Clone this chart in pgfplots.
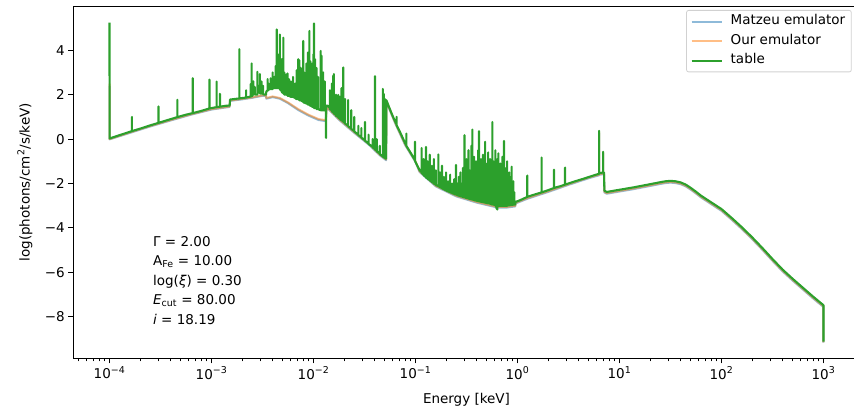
\documentclass[border=0pt]{standalone}
\usepackage{fontspec}
\setmainfont{DejaVu Sans}
\usepackage{pgfplots}
\usepackage{pgfplotstable}
\pgfplotsset{compat=1.18}
\definecolor{tabblue}{RGB}{31,119,180}
\definecolor{taborange}{RGB}{255,127,14}
\definecolor{tabgreen}{RGB}{44,160,44}

% log10(E [keV])  log10(flux)
\pgfplotstableread{
lx y
-4.000 5.25
-3.999 0.03
-3.900 0.18
-3.780 0.36
-3.780 1.00
-3.780 0.36
-3.700 0.47
-3.600 0.62
-3.520 0.73
-3.520 1.47
-3.520 0.73
-3.450 0.83
-3.335 0.99
-3.335 1.77
-3.335 0.99
-3.250 1.10
-3.184 1.17
-3.184 2.74
-3.184 1.17
-3.100 1.27
-3.020 1.38
-3.020 2.68
-3.020 1.38
-2.950 1.44
-2.950 2.59
-2.950 1.44
-2.917 1.46
-2.917 2.04
-2.917 1.46
-2.860 1.50
-2.822 1.51
-2.818 1.78
-2.750 1.82
-2.727 1.83
-2.727 4.05
-2.727 1.83
-2.680 1.86
-2.660 1.87
-2.660 2.20
-2.660 1.87
-2.630 1.90
-2.615 1.92
-2.615 2.48
-2.615 1.92
-2.606 1.93
-2.606 3.41
-2.606 1.93
-2.598 1.95
-2.598 2.50
-2.598 2.00
-2.590 2.00
-2.590 2.60
-2.590 2.05
-2.575 2.05
-2.575 2.35
-2.575 2.00
-2.550 2.00
-2.550 3.03
-2.550 2.10
-2.540 2.10
-2.540 2.40
-2.540 2.10
-2.525 2.10
-2.525 2.93
-2.525 2.05
-2.510 2.05
-2.510 2.60
-2.510 2.05
-2.495 2.05
-2.495 2.40
-2.495 2.02
-2.475 2.00
-2.466 2.00
-2.462 2.15
-2.450 2.20
-2.450 2.70
-2.450 2.20
-2.440 2.20
-2.440 2.50
-2.440 2.25
-2.420 2.25
-2.420 2.74
-2.420 2.25
-2.400 2.25
-2.400 3.00
-2.400 2.30
-2.385 2.30
-2.385 2.80
-2.385 2.30
-2.370 2.30
-2.370 3.30
-2.370 2.30
-2.360 2.30
-2.360 4.94
-2.360 2.30
-2.355 2.30
-2.355 3.50
-2.355 2.30
-2.345 2.30
-2.345 3.80
-2.345 2.30
-2.330 2.30
-2.330 4.71
-2.330 2.25
-2.320 2.20
-2.320 3.20
-2.320 2.20
-2.310 2.15
-2.310 3.60
-2.310 2.10
-2.296 2.10
-2.296 4.57
-2.296 2.05
-2.285 2.05
-2.285 3.00
-2.285 2.00
-2.270 2.00
-2.270 2.90
-2.270 2.00
-2.255 2.00
-2.255 2.96
-2.255 1.95
-2.240 1.95
-2.240 2.70
-2.240 1.95
-2.220 1.90
-2.220 2.60
-2.220 1.90
-2.200 1.90
-2.200 2.80
-2.200 1.90
-2.180 1.85
-2.180 2.50
-2.180 1.85
-2.165 1.80
-2.165 3.10
-2.165 1.80
-2.149 1.80
-2.149 3.60
-2.149 1.80
-2.140 1.80
-2.140 3.55
-2.140 1.75
-2.125 1.75
-2.125 3.20
-2.125 1.75
-2.110 1.70
-2.110 2.90
-2.110 1.70
-2.100 1.70
-2.100 4.42
-2.100 1.65
-2.090 1.65
-2.090 3.00
-2.090 1.65
-2.070 1.60
-2.070 3.40
-2.070 1.60
-2.055 1.60
-2.055 3.90
-2.055 1.55
-2.040 1.55
-2.040 4.87
-2.040 1.55
-2.030 1.50
-2.030 3.50
-2.030 1.50
-2.015 1.50
-2.015 3.40
-2.015 1.45
-2.000 1.45
-2.000 3.82
-2.000 1.45
-1.995 1.45
-1.995 5.21
-1.995 1.40
-1.985 1.40
-1.985 3.60
-1.985 1.40
-1.970 1.40
-1.970 3.20
-1.970 1.35
-1.955 1.35
-1.955 2.80
-1.955 1.35
-1.930 1.30
-1.930 3.97
-1.930 1.30
-1.920 1.30
-1.920 3.75
-1.920 1.30
-1.905 1.30
-1.905 3.00
-1.905 1.30
-1.890 1.30
-1.890 2.60
-1.890 1.30
-1.877 1.30
-1.877 0.05
-1.877 1.50
-1.860 1.50
-1.840 1.40
-1.840 2.20
-1.840 1.35
-1.820 1.30
-1.820 2.50
-1.820 1.25
-1.806 1.20
-1.806 2.86
-1.806 1.20
-1.800 1.20
-1.800 2.93
-1.800 1.15
-1.780 1.10
-1.780 2.00
-1.780 1.05
-1.757 1.00
-1.757 1.99
-1.757 0.97
-1.740 0.92
-1.740 1.90
-1.740 0.90
-1.725 0.85
-1.725 2.30
-1.725 0.85
-1.708 0.80
-1.708 3.23
-1.708 0.78
-1.690 0.72
-1.690 1.80
-1.690 0.70
-1.660 0.60
-1.660 1.76
-1.660 0.58
-1.630 0.48
-1.630 1.30
-1.630 0.46
-1.600 0.36
-1.600 1.00
-1.600 0.34
-1.560 0.20
-1.560 0.60
-1.560 0.18
-1.530 0.08
-1.530 0.50
-1.530 0.06
-1.495 -0.05
-1.495 0.77
-1.495 -0.07
-1.460 -0.20
-1.460 0.20
-1.460 -0.22
-1.420 -0.35
-1.420 0.00
-1.420 -0.37
-1.397 -0.45
-1.397 2.83
-1.397 -0.47
-1.380 -0.52
-1.380 0.00
-1.380 -0.55
-1.350 -0.65
-1.350 -0.30
-1.350 -0.68
-1.320 -0.78
-1.320 2.26
-1.320 -0.80
-1.310 -0.80
-1.310 2.03
-1.310 -0.82
-1.295 -0.86
-1.295 1.79
-1.295 -0.88
-1.288 -0.88
-1.285 1.75
-1.260 1.45
-1.220 1.00
-1.185 0.65
-1.185 1.00
-1.185 0.62
-1.150 0.30
-1.100 -0.20
-1.090 -0.28
-1.090 0.25
-1.090 -0.30
-1.050 -0.60
-1.005 -0.95
-1.005 -0.12
-1.005 -0.98
-0.960 -1.40
-0.940 -1.50
-0.940 -0.40
-0.940 -1.52
-0.920 -1.60
-0.920 -0.90
-0.920 -1.62
-0.897 -1.71
-0.897 -0.35
-0.897 -1.73
-0.880 -1.77
-0.880 -1.00
-0.880 -1.79
-0.860 -1.84
-0.860 -0.70
-0.860 -1.86
-0.840 -1.91
-0.840 -1.20
-0.840 -1.93
-0.820 -1.98
-0.820 -0.90
-0.820 -2.00
-0.800 -2.05
-0.800 -1.40
-0.800 -2.07
-0.776 -2.11
-0.776 -0.69
-0.776 -2.12
-0.760 -2.15
-0.760 -1.50
-0.760 -2.17
-0.740 -2.20
-0.740 -1.20
-0.740 -2.22
-0.720 -2.25
-0.720 -1.70
-0.720 -2.27
-0.700 -2.30
-0.700 -1.50
-0.700 -2.32
-0.680 -2.34
-0.680 -1.90
-0.680 -2.36
-0.660 -2.38
-0.660 -1.60
-0.660 -2.40
-0.640 -2.42
-0.640 -2.00
-0.640 -2.44
-0.620 -2.46
-0.620 -1.80
-0.620 -2.48
-0.603 -2.49
-0.603 -1.16
-0.603 -2.50
-0.590 -2.51
-0.590 -2.00
-0.590 -2.53
-0.575 -2.54
-0.575 -1.70
-0.575 -2.55
-0.560 -2.56
-0.560 -1.50
-0.560 -2.57
-0.545 -2.58
-0.545 -2.00
-0.545 -2.59
-0.535 -2.60
-0.535 -1.30
-0.535 -2.61
-0.520 -2.62
-0.520 0.18
-0.520 -2.62
-0.510 -2.63
-0.510 -1.60
-0.510 -2.64
-0.500 -2.65
-0.500 -0.90
-0.500 -2.65
-0.490 -2.66
-0.490 -1.80
-0.490 -2.67
-0.480 -2.67
-0.480 -0.50
-0.480 -2.68
-0.470 -2.69
-0.470 -1.40
-0.470 -2.69
-0.460 -2.70
-0.460 -2.00
-0.460 -2.70
-0.452 -2.71
-0.452 -0.30
-0.452 -2.71
-0.443 -2.72
-0.443 0.43
-0.443 -2.72
-0.435 -2.73
-0.435 -1.20
-0.435 -2.73
-0.425 -2.74
-0.425 -0.80
-0.425 -2.75
-0.415 -2.76
-0.415 -1.90
-0.415 -2.76
-0.405 -2.77
-0.405 -1.00
-0.405 -2.77
-0.395 -2.78
-0.395 -1.50
-0.395 -2.78
-0.386 -2.79
-0.386 -0.50
-0.386 -2.79
-0.377 -2.80
-0.377 0.36
-0.377 -2.80
-0.368 -2.81
-0.368 -1.30
-0.368 -2.81
-0.358 -2.82
-0.358 -0.90
-0.358 -2.82
-0.348 -2.83
-0.348 -1.70
-0.348 -2.83
-0.338 -2.84
-0.338 -0.70
-0.338 -2.84
-0.328 -2.85
-0.328 -1.40
-0.328 -2.85
-0.318 -2.86
-0.318 -0.12
-0.318 -2.86
-0.308 -2.87
-0.308 -1.10
-0.308 -2.87
-0.298 -2.88
-0.298 -1.80
-0.298 -2.88
-0.288 -2.89
-0.288 -0.60
-0.288 -2.89
-0.278 -2.90
-0.278 -1.30
-0.278 -2.90
-0.268 -2.91
-0.268 -0.90
-0.268 -2.91
-0.258 -2.92
-0.258 -1.60
-0.258 -2.93
-0.247 -2.94
-0.247 0.77
-0.247 -2.94
-0.237 -2.95
-0.237 -1.00
-0.237 -2.95
-0.227 -2.96
-0.227 -1.90
-0.227 -2.96
-0.217 -2.97
-0.217 -0.50
-0.217 -2.98
-0.207 -3.05
-0.207 -1.50
-0.207 -3.10
-0.197 -3.17
-0.197 -0.90
-0.197 -3.05
-0.188 -3.00
-0.188 -0.64
-0.188 -3.00
-0.178 -3.00
-0.178 -1.70
-0.178 -3.00
-0.168 -3.00
-0.168 -1.10
-0.168 -3.00
-0.158 -3.00
-0.158 -2.00
-0.158 -3.00
-0.148 -3.00
-0.148 -0.80
-0.148 -3.00
-0.140 -3.00
-0.140 -1.50
-0.140 -3.00
-0.132 -3.00
-0.132 -0.08
-0.132 -3.00
-0.122 -3.00
-0.122 -1.30
-0.122 -3.00
-0.112 -3.00
-0.112 -2.10
-0.112 -3.00
-0.102 -3.00
-0.102 -1.00
-0.102 -3.00
-0.092 -2.99
-0.092 -1.80
-0.092 -2.99
-0.082 -2.98
-0.082 -1.50
-0.082 -2.98
-0.072 -2.97
-0.072 -2.20
-0.072 -2.97
-0.065 -2.97
-0.065 -1.70
-0.065 -2.97
-0.057 -2.96
-0.057 -1.24
-0.057 -2.96
-0.048 -2.96
-0.048 -2.30
-0.048 -2.96
-0.040 -2.95
-0.040 -1.90
-0.040 -2.95
-0.030 -2.95
-0.030 -2.40
-0.030 -2.95
-0.022 -2.95
-0.020 -2.82
0.000 -2.80
0.050 -2.70
0.096 -2.60
0.096 -1.64
0.096 -2.60
0.150 -2.52
0.200 -2.45
0.237 -2.40
0.237 -0.83
0.237 -2.40
0.300 -2.30
0.358 -2.20
0.358 -1.38
0.358 -2.20
0.420 -2.12
0.466 -2.05
0.466 -1.28
0.466 -2.05
0.550 -1.92
0.650 -1.78
0.750 -1.63
0.800 -1.56
0.800 0.37
0.800 -1.53
0.820 -1.52
0.840 -1.50
0.840 -0.57
0.840 -1.50
0.848 -1.50
0.852 -2.32
0.875 -2.38
1.000 -2.28
1.130 -2.18
1.300 -2.03
1.400 -1.94
1.450 -1.90
1.500 -1.88
1.550 -1.90
1.600 -1.95
1.650 -2.05
1.700 -2.20
1.750 -2.37
1.800 -2.55
1.900 -2.85
2.000 -3.15
2.100 -3.55
2.200 -3.97
2.300 -4.42
2.400 -4.90
2.500 -5.40
2.600 -5.88
2.700 -6.30
2.800 -6.70
2.900 -7.10
3.000 -7.48
3.000 -9.12
}\tabledata

\pgfplotstableread{
lx y
-4.000 2.50
-3.999 0.00
-3.800 0.30
-3.600 0.59
-3.400 0.86
-3.200 1.12
-3.000 1.35
-2.822 1.47
-2.818 1.74
-2.700 1.81
-2.600 1.88
-2.500 1.97
-2.466 1.97
-2.462 1.85
-2.400 1.92
-2.330 1.85
-2.250 1.65
-2.150 1.35
-2.050 1.10
-1.950 0.90
-1.880 0.85
-1.870 1.45
-1.750 0.90
-1.600 0.31
-1.450 -0.25
-1.350 -0.70
-1.288 -0.92
-1.285 1.70
-1.200 0.75
-1.100 -0.25
-1.000 -1.00
-0.960 -1.45
-0.800 -2.10
-0.600 -2.55
-0.400 -2.83
-0.200 -3.05
-0.100 -3.05
-0.022 -3.00
-0.020 -2.87
0.100 -2.65
0.300 -2.35
0.500 -2.03
0.700 -1.73
0.800 -1.60
0.800 0.30
0.800 -1.58
0.840 -1.55
0.840 -0.60
0.840 -1.55
0.848 -1.55
0.852 -2.37
0.875 -2.43
1.000 -2.33
1.130 -2.23
1.300 -2.08
1.400 -1.99
1.450 -1.95
1.500 -1.93
1.550 -1.95
1.600 -2.00
1.650 -2.10
1.700 -2.25
1.750 -2.42
1.800 -2.60
1.900 -2.90
2.000 -3.20
2.100 -3.60
2.200 -4.02
2.300 -4.47
2.400 -4.95
2.500 -5.45
2.600 -5.93
2.700 -6.35
2.800 -6.75
2.900 -7.15
3.000 -7.53
3.000 -9.15
}\ourdata

\pgfplotstableread{
lx y
-4.000 2.40
-3.999 -0.01
-3.800 0.28
-3.600 0.57
-3.400 0.84
-3.200 1.10
-3.000 1.33
-2.822 1.45
-2.818 1.72
-2.700 1.79
-2.600 1.86
-2.500 1.95
-2.466 1.95
-2.462 1.82
-2.400 1.89
-2.330 1.82
-2.250 1.62
-2.150 1.31
-2.050 1.06
-1.950 0.86
-1.880 0.81
-1.870 1.42
-1.750 0.87
-1.600 0.28
-1.450 -0.28
-1.350 -0.73
-1.288 -0.95
-1.285 1.67
-1.200 0.72
-1.100 -0.28
-1.000 -1.03
-0.960 -1.48
-0.800 -2.13
-0.600 -2.58
-0.400 -2.86
-0.200 -3.08
-0.100 -3.08
-0.022 -3.03
-0.020 -2.90
0.100 -2.68
0.300 -2.38
0.500 -2.06
0.700 -1.76
0.800 -1.63
0.800 0.27
0.800 -1.61
0.840 -1.58
0.840 -0.63
0.840 -1.58
0.848 -1.58
0.852 -2.40
0.875 -2.46
1.000 -2.36
1.130 -2.26
1.300 -2.11
1.400 -2.02
1.450 -1.98
1.500 -1.96
1.550 -1.98
1.600 -2.03
1.650 -2.13
1.700 -2.28
1.750 -2.45
1.800 -2.63
1.900 -2.93
2.000 -3.23
2.100 -3.63
2.200 -4.05
2.300 -4.50
2.400 -4.98
2.500 -5.48
2.600 -5.96
2.700 -6.38
2.800 -6.78
2.900 -7.18
3.000 -7.56
3.000 -9.17
}\matzeudata

\begin{document}
\begin{tikzpicture}
\begin{axis}[
  name=ax,
  scale only axis,
  width=786.4pt, height=352pt,
  xmode=log,
  xmin=4.4157e-5, xmax=2264.6,
  ymin=-9.87, ymax=5.98,
  font=\fontsize{13.5}{16}\selectfont,
  axis line style={line width=0.9pt, black},
  tick style={line width=0.9pt, black},
  tick align=outside,
  tick pos=left,
  major tick length=5pt,
  minor tick length=3pt,
  xtick={1e-4,1e-3,1e-2,1e-1,1,10,100,1000},
  xticklabels={10\textsuperscript{−4},10\textsuperscript{−3},10\textsuperscript{−2},10\textsuperscript{−1},10\textsuperscript{0},10\textsuperscript{1},10\textsuperscript{2},10\textsuperscript{3}},
  minor xtick={5e-5,6e-5,7e-5,8e-5,9e-5,2e-4,3e-4,4e-4,5e-4,6e-4,7e-4,8e-4,9e-4,2e-3,3e-3,4e-3,5e-3,6e-3,7e-3,8e-3,9e-3,2e-2,3e-2,4e-2,5e-2,6e-2,7e-2,8e-2,9e-2,0.2,0.3,0.4,0.5,0.6,0.7,0.8,0.9,2,3,4,5,6,7,8,9,20,30,40,50,60,70,80,90,200,300,400,500,600,700,800,900,2000},
  ytick={-8,-6,-4,-2,0,2,4},
  yticklabels={−8,−6,−4,−2,0,2,4},
  xlabel={Energy [keV]},
  ylabel={log(photons/cm\textsuperscript{2}/s/keV)},
  every axis x label/.style={at={(axis description cs:0.5,-0.1185)}, anchor=center},
  every axis y label/.style={at={(axis description cs:-0.0614,0.5)}, rotate=90, anchor=center},
  legend style={at={(axis description cs:0.9898,0.9895)}, anchor=north east,
    draw=black!18, rounded corners=2pt, fill=white, line width=0.8pt,
    font=\fontsize{13.5}{16}\selectfont, row sep=3pt,
    inner xsep=4pt, inner ysep=3pt,
    nodes={inner sep=2pt, text height=9.5pt, text depth=3pt},
    /tikz/every odd column/.append style={column sep=6pt}},
  legend cell align=left,
  legend image code/.code={\draw[#1] (0pt,0pt) -- (30pt,0pt);},
]
\addplot[tabblue, draw opacity=0.5, line width=2pt, line join=round] table[x expr={10^(\thisrow{lx})}, y=y] {\matzeudata};
\addlegendentry{Matzeu emulator}
\addplot[taborange, draw opacity=0.5, line width=2pt, line join=round] table[x expr={10^(\thisrow{lx})}, y=y] {\ourdata};
\addlegendentry{Our emulator}
\addplot[tabgreen, line width=2.1pt, line join=round] table[x expr={10^(\thisrow{lx})}, y=y] {\tabledata};
\addlegendentry{table}
\node[anchor=north west, align=left, inner sep=0pt, font=\fontsize{13.5}{19.5}\selectfont] at (axis description cs:0.1013,0.348)
  {Γ = 2.00\\A\textsubscript{Fe} = 10.00\\log(\textit{ξ}) = 0.30\\\textit{E}\textsubscript{cut} = 80.00\\\textit{i} = 18.19};
\end{axis}
\pgfresetboundingbox
\path[use as bounding box, shift={(ax.south west)}] (-73.3pt,-52.7pt) rectangle (780.7pt,358.3pt);
\end{tikzpicture}
\end{document}
